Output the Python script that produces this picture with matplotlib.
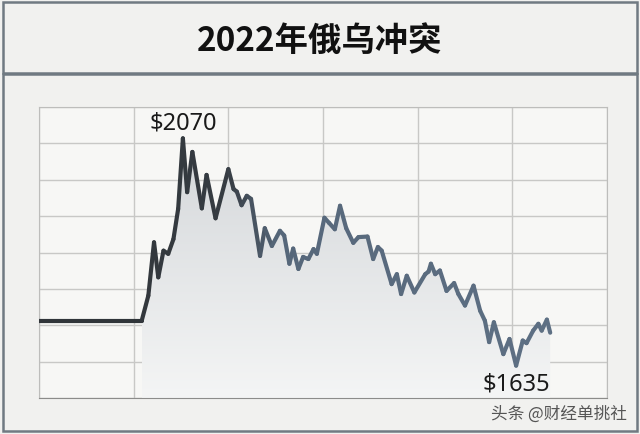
import numpy as np
import matplotlib
matplotlib.use("Agg")
import matplotlib.pyplot as plt
from matplotlib.collections import LineCollection
from matplotlib.colors import LinearSegmentedColormap, Normalize
from matplotlib.patches import Rectangle, Polygon

# month of 2022 (0 = 1 Jan) and price in USD
months = [0.00, 2.17, 2.31, 2.43, 2.52, 2.63, 2.73, 2.84, 2.94, 3.04,
          3.13, 3.24, 3.44, 3.54, 3.73, 4.00, 4.11, 4.18, 4.28, 4.39,
          4.48, 4.67, 4.77, 4.92, 5.09, 5.18, 5.29, 5.37, 5.48, 5.58,
          5.69, 5.80, 5.87, 6.03, 6.13, 6.25, 6.36, 6.49, 6.64, 6.75,
          6.94, 7.06, 7.16, 7.24, 7.45, 7.56, 7.65, 7.77, 7.93, 8.16,
          8.23, 8.28, 8.37, 8.47, 8.61, 8.77, 8.86, 9.00, 9.18, 9.32,
          9.42, 9.51, 9.61, 9.81, 9.94, 10.08, 10.22, 10.30, 10.44, 10.55,
          10.62, 10.73, 10.80]
price = [1721, 1721, 1769, 1871, 1804, 1855, 1849, 1877, 1935, 2070,
         1967, 2044, 1936, 2000, 1917, 2011, 1973, 1968, 1942, 1960,
         1954, 1845, 1898, 1864, 1893, 1884, 1830, 1859, 1820, 1843,
         1839, 1858, 1849, 1918, 1908, 1896, 1941, 1898, 1870, 1881,
         1882, 1839, 1862, 1855, 1791, 1810, 1772, 1807, 1775, 1810,
         1815, 1830, 1810, 1817, 1778, 1793, 1772, 1750, 1788, 1740,
         1721, 1680, 1718, 1657, 1686, 1635, 1683, 1678, 1702, 1715,
         1702, 1723, 1698]

title = "2022年俄乌冲突"
watermark = "头条 @财经单挑社"
y_lo, y_hi = 1573, 2130

W, H = 640, 435
fig = plt.figure(figsize=(W / 100, H / 100), dpi=100, facecolor="#f1f1ef")

# frames: title box and chart box
fig.add_artist(Rectangle((3 / W, 1 - 74 / H), 634 / W, 71 / H, transform=fig.transFigure,
                         fill=False, ec="#707a82", lw=1.8))
fig.add_artist(Rectangle((3 / W, 3 / H), 634 / W, (432 - 75) / H, transform=fig.transFigure,
                         fill=False, ec="#707a82", lw=1.8))

fig.text(0.5, 1 - 41 / H, title, ha="center", va="center", fontsize=24, fontweight="bold",
         family=["Noto Sans CJK SC", "DejaVu Sans"], color="#111111")

ax = fig.add_axes([39 / W, 1 - 399 / H, 568 / W, 291 / H])
ax.set_facecolor("#f7f7f5")
ax.set_xlim(0, 12)
ax.set_ylim(y_lo, y_hi)
ax.set_xticks(np.arange(0, 13, 2))
ax.set_yticks(np.linspace(y_lo, y_hi, 9))
ax.grid(color="#c8c8c6", lw=1)
ax.set_axisbelow(True)
ax.tick_params(length=0, labelbottom=False, labelleft=False)
for s in ax.spines.values():
    s.set_color("#bdbdbb")
ax.spines["bottom"].set_color("#8c8c8a")

# gradient area under the line (from the start of the rise)
x = np.array(months)
y = np.array(price)
verts = list(zip(x[1:], y[1:])) + [(x[-1], y_lo), (x[1], y_lo)]
poly = Polygon(verts, closed=True, fc="none", ec="none")
ax.add_patch(poly)
grad = np.linspace(0, 1, 256).reshape(-1, 1)
fill_cmap = LinearSegmentedColormap.from_list("fill", ["#f4f5f5", "#d4d7da"])
im = ax.imshow(grad, cmap=fill_cmap, origin="lower", aspect="auto",
               extent=[x[1], x[-1], y_lo, max(price)], zorder=1.5)
im.set_clip_path(poly)
ax.set_xlim(0, 12)
ax.set_ylim(y_lo, y_hi)

# line, dark on the left turning slate blue on the right
pts = np.column_stack([x, y]).reshape(-1, 1, 2)
segs = np.concatenate([pts[:-1], pts[1:]], axis=1)
line_cmap = LinearSegmentedColormap.from_list(
    "line", [(0, "#2e3236"), (0.36, "#363c42"), (0.46, "#56677a"), (1, "#5e7084")])
lc = LineCollection(segs, cmap=line_cmap, norm=Normalize(0, 11), lw=3.0,
                    capstyle="round", joinstyle="round", zorder=3)
lc.set_array((x[:-1] + x[1:]) / 2)
ax.add_collection(lc)

i_max = int(np.argmax(y))
i_min = int(np.argmin(y))
ax.annotate(f"${price[i_max]}", (x[i_max], y[i_max]), xytext=(0, 3), textcoords="offset points",
            ha="center", va="bottom", fontsize=17, family="Noto Sans", color="#1a1a1a")
ax.annotate(f"${price[i_min]}", (x[i_min], y[i_min]), xytext=(0, -4), textcoords="offset points",
            ha="center", va="top", fontsize=17, family="Noto Sans", color="#1a1a1a")

fig.text(627 / W, 1 - 414 / H, watermark, ha="right", va="center", fontsize=12,
         family=["Noto Sans CJK SC", "DejaVu Sans"], color="#555555")

fig.savefig("out.png", dpi=100, facecolor=fig.get_facecolor())
